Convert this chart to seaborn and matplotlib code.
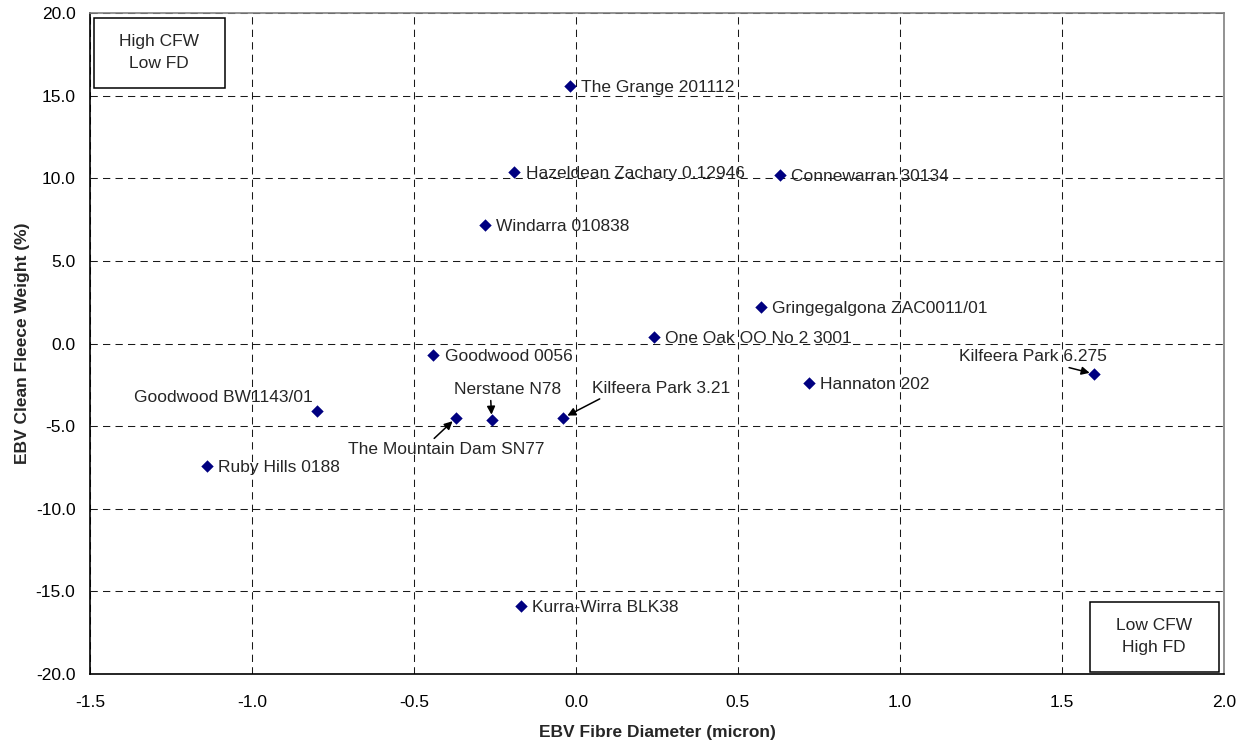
import numpy as np
import pandas as pd
import seaborn as sns
import matplotlib.pyplot as plt
from matplotlib.patches import Rectangle

# Sire EBVs
sires = ['The Grange 201112', 'Hazeldean Zachary 0.12946', 'Connewarran 30134',
         'Windarra 010838', 'Gringegalgona ZAC0011/01', 'One Oak OO No 2 3001',
         'Goodwood 0056', 'Kilfeera Park 6.275', 'Hannaton 202',
         'Goodwood BW1143/01', 'The Mountain Dam SN77', 'Nerstane N78',
         'Kilfeera Park 3.21', 'Ruby Hills 0188', 'Kurra-Wirra BLK38']
fd_ebv = [-0.02, -0.19, 0.63, -0.28, 0.57, 0.24, -0.44, 1.60, 0.72,
          -0.80, -0.37, -0.26, -0.04, -1.14, -0.17]
cfw_ebv = [15.6, 10.4, 10.2, 7.2, 2.2, 0.4, -0.7, -1.85, -2.4,
           -4.1, -4.5, -4.6, -4.5, -7.4, -15.9]

x_ticks = [-1.5, -1.0, -0.5, 0.0, 0.5, 1.0, 1.5, 2.0]
y_ticks = [-20, -15, -10, -5, 0, 5, 10, 15, 20]

df = pd.DataFrame({'sire': sires, 'fd': fd_ebv, 'cfw': cfw_ebv})

sns.set_style('white')
plt.rcParams['font.family'] = ['Liberation Sans', 'DejaVu Sans']
plt.rcParams['axes.unicode_minus'] = False

fig = plt.figure(figsize=(12.49, 7.45), dpi=100)
ax = fig.add_axes([90 / 1249, 1 - 674 / 745, 1134 / 1249, 661 / 745])

sns.scatterplot(data=df, x='fd', y='cfw', marker='D', color='#000080',
                s=40, linewidth=0, ax=ax, zorder=3)

ax.set_xlim(-1.5, 2.0)
ax.set_ylim(-20, 20)
ax.set_xticks(x_ticks)
ax.set_yticks(y_ticks)
ax.set_xticklabels([f'{v:.1f}' for v in x_ticks])
ax.set_yticklabels([f'{v:.1f}' for v in y_ticks])
ax.tick_params(axis='both', direction='out', length=5, width=1,
               labelsize=12.5, colors='black')
ax.tick_params(axis='y', pad=5.5)
ax.tick_params(axis='x', pad=10)
ax.grid(True, color='#1a1a1a', linestyle=(0, (7, 5)), linewidth=0.75)
for s in ['left', 'bottom']:
    ax.spines[s].set_color('black')
    ax.spines[s].set_linewidth(1.2)
for s in ['top', 'right']:
    ax.spines[s].set_color('#808080')
    ax.spines[s].set_linewidth(1.2)

ax.set_xlabel('EBV Fibre Diameter (micron)', fontsize=12.5, fontweight='bold', labelpad=11)
ax.set_ylabel('EBV Clean Fleece Weight (%)', fontsize=12.5, fontweight='bold', labelpad=4)

# label placement: offset (points), ha, arrow start on text box
special = {
    'Goodwood BW1143/01': ((-3, 11), 'right', None),
    'The Mountain Dam SN77': ((-7, -21.5), 'center', (0.42, 1.0)),
    'Nerstane N78': ((11.5, 22.5), 'center', (0.34, 0.0)),
    'Kilfeera Park 3.21': ((21, 22.5), 'left', (0.1, 0.0)),
    'Kilfeera Park 6.275': ((-44.5, 13.5), 'center', (0.66, 0.0)),
}
for name, x, y in zip(sires, fd_ebv, cfw_ebv):
    off, ha, rel = special.get(name, ((8, 0), 'left', None))
    props = None
    if rel is not None:
        props = dict(arrowstyle='-|>', color='black', lw=1.1, shrinkA=0,
                     shrinkB=3.5, mutation_scale=12, relpos=rel)
    ax.annotate(name, (x, y), xytext=off, textcoords='offset points',
                ha=ha, va='center_baseline', fontsize=12.5, arrowprops=props,
                zorder=4)

# quadrant boxes
ax.add_patch(Rectangle((0.0038, 0.887), 0.1155, 0.106, transform=ax.transAxes,
                       facecolor='white', edgecolor='black', lw=1.1, zorder=5))
ax.text(0.061, 0.940, 'High CFW\nLow FD', transform=ax.transAxes, ha='center',
        va='center', fontsize=12.5, linespacing=1.55, zorder=6)
ax.add_patch(Rectangle((0.882, 0.0025), 0.114, 0.1065, transform=ax.transAxes,
                       facecolor='white', edgecolor='black', lw=1.1, zorder=5))
ax.text(0.938, 0.057, 'Low CFW\nHigh FD', transform=ax.transAxes, ha='center',
        va='center', fontsize=12.5, linespacing=1.55, zorder=6)

fig.savefig('out.png', dpi=100)
